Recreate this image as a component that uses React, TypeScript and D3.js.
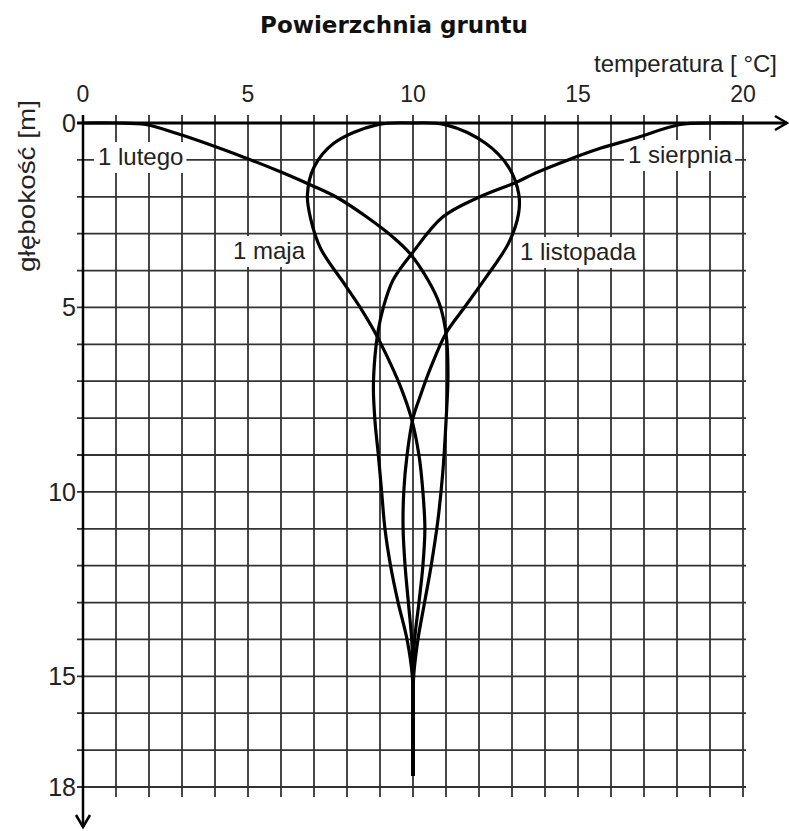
import { useEffect, useRef } from 'react';
import * as d3 from 'd3';

// axis ticks
const tempTicks = [0, 5, 10, 15, 20];
const depthTicks = [0, 5, 10, 15, 18];

// profiles: depth [m] and temperature [°C]
const lutyDepth = [0, 0, 0.04, 0.3, 0.92, 1.33, 1.68, 2.02, 2.55, 3.1, 3.53, 4.25, 4.9, 5.7, 6.8, 8.1, 9.5, 10.8, 12, 13, 14, 15, 16, 17.7];
const lutyTemp = [0, 1, 1.9, 2.9, 4.85, 6.0, 6.9, 7.7, 8.6, 9.4, 9.9, 10.45, 10.8, 11.0, 11.06, 11.0, 10.9, 10.75, 10.55, 10.35, 10.15, 10.02, 10.0, 10.0];

const majDepth = [0, 0.05, 0.55, 1.2, 1.95, 2.6, 3.4, 4.4, 5.07, 5.6, 6.3, 7.1, 8.0, 9, 10, 11, 12, 13, 14, 15, 16, 17.7];
const majTemp = [10, 8.9, 7.6, 7.0, 6.8, 6.9, 7.2, 7.95, 8.45, 8.8, 9.2, 9.6, 9.95, 10.18, 10.3, 10.36, 10.3, 10.18, 10.05, 10.0, 10.0, 10.0];

const sierpienDepth = [0, 0, 0.04, 0.42, 0.68, 1.0, 1.36, 1.6, 2.0, 2.55, 3.5, 4.25, 5.0, 5.6, 6.3, 7.2, 8.1, 9, 10, 11, 12, 13, 14, 15, 16, 17.7];
const sierpienTemp = [20, 19, 18.1, 16.7, 15.7, 14.7, 13.7, 13.15, 12.03, 10.9, 10.0, 9.4, 9.1, 8.95, 8.85, 8.8, 8.85, 8.95, 9.05, 9.15, 9.32, 9.55, 9.82, 9.98, 10.0, 10.0];

const listopadDepth = [0, 0.05, 0.55, 1.2, 1.9, 2.45, 3.25, 4.2, 5.07, 5.7, 6.6, 7.4, 8.0, 9, 10, 11, 12, 13, 14, 15, 16, 17.7];
const listopadTemp = [10, 11.0, 12.2, 12.9, 13.2, 13.2, 12.9, 12.2, 11.5, 11.0, 10.55, 10.22, 10.0, 9.82, 9.72, 9.7, 9.76, 9.86, 9.96, 10.0, 10.0, 10.0];

const seriesNames = ['1 lutego', '1 maja', '1 sierpnia', '1 listopada'];

const W = 789;
const H = 831;

const App = () => {
  const ref = useRef<SVGSVGElement>(null);

  useEffect(() => {
    if (!ref.current) return;
    const svg = d3.select(ref.current);
    svg.selectAll('*').remove();

    const x = d3.scaleLinear().domain([0, 20]).range([83, 743]);
    const y = d3.scaleLinear().domain([0, 18]).range([123, 787]);

    const series = [
      { name: seriesNames[0], pts: lutyDepth.map((d, i) => [lutyTemp[i], d]) },
      { name: seriesNames[1], pts: majDepth.map((d, i) => [majTemp[i], d]) },
      { name: seriesNames[2], pts: sierpienDepth.map((d, i) => [sierpienTemp[i], d]) },
      { name: seriesNames[3], pts: listopadDepth.map((d, i) => [listopadTemp[i], d]) },
    ];

    const sans = "'Liberation Sans', Arial, sans-serif";

    // title
    svg.append('text')
      .attr('x', 394).attr('y', 33)
      .attr('text-anchor', 'middle')
      .attr('font-family', "'DejaVu Sans', Verdana, sans-serif")
      .attr('font-weight', 'bold')
      .attr('font-size', 23)
      .attr('fill', '#111')
      .text('Powierzchnia gruntu');

    // grid
    const grid = svg.append('g').attr('stroke', '#333').attr('stroke-width', 1.8);
    grid.selectAll('line.v')
      .data(d3.range(1, 21))
      .enter().append('line')
      .attr('class', 'v')
      .attr('x1', d => x(d)).attr('x2', d => x(d))
      .attr('y1', y(0) - 8).attr('y2', y(18) + 10);
    grid.selectAll('line.h')
      .data(d3.range(1, 19))
      .enter().append('line')
      .attr('class', 'h')
      .attr('y1', d => y(d)).attr('y2', d => y(d))
      .attr('x1', x(0) - 6).attr('x2', x(20) + 3);

    // axes with arrows
    const axes = svg.append('g').attr('stroke', '#000').attr('fill', 'none');
    axes.append('line')
      .attr('x1', x(0) - 6).attr('x2', W - 2)
      .attr('y1', y(0)).attr('y2', y(0))
      .attr('stroke-width', 3);
    axes.append('path')
      .attr('d', `M${W - 14},${y(0) - 7}L${W - 2},${y(0)}L${W - 14},${y(0) + 7}`)
      .attr('stroke-width', 2.5);
    axes.append('line')
      .attr('x1', x(0)).attr('x2', x(0))
      .attr('y1', y(0) - 8).attr('y2', 827)
      .attr('stroke-width', 2.5);
    axes.append('path')
      .attr('d', `M${x(0) - 7},815L${x(0)},827L${x(0) + 7},815`)
      .attr('stroke-width', 2.5);

    // tick labels
    svg.append('g')
      .selectAll('text')
      .data(tempTicks)
      .enter().append('text')
      .attr('x', d => x(d)).attr('y', 102)
      .attr('text-anchor', 'middle')
      .attr('font-family', sans).attr('font-size', 23)
      .attr('fill', '#222')
      .text(d => d);
    svg.append('g')
      .selectAll('text')
      .data(depthTicks)
      .enter().append('text')
      .attr('x', 76).attr('y', d => y(d) + 9)
      .attr('text-anchor', 'end')
      .attr('font-family', sans).attr('font-size', 25)
      .attr('fill', '#222')
      .text(d => d);

    // axis titles
    svg.append('text')
      .attr('x', 777).attr('y', 72)
      .attr('text-anchor', 'end')
      .attr('font-family', sans).attr('font-size', 24)
      .attr('fill', '#222')
      .text('temperatura [ °C]');
    svg.append('text')
      .attr('transform', 'translate(35,186) rotate(-90)')
      .attr('text-anchor', 'middle')
      .attr('font-family', sans).attr('font-size', 24)
      .attr('textLength', 172).attr('lengthAdjust', 'spacingAndGlyphs')
      .attr('fill', '#222')
      .text('głębokość [m]');

    // curve labels with white boxes over the grid
    const labelSpots = [
      { x: 98, y: 165 },
      { x: 233, y: 259 },
      { x: 628, y: 163 },
      { x: 520, y: 260 },
    ];
    const labels = svg.append('g');
    seriesNames.forEach((name, i) => {
      const g = labels.append('g');
      const rect = g.append('rect').attr('fill', '#fff');
      const t = g.append('text')
        .attr('x', labelSpots[i].x).attr('y', labelSpots[i].y)
        .attr('font-family', sans).attr('font-size', 24)
        .attr('fill', '#222')
        .text(name);
      const len = (t.node() as SVGTextElement).getComputedTextLength();
      rect.attr('x', labelSpots[i].x - 4).attr('y', labelSpots[i].y - 23)
        .attr('width', len + 7).attr('height', 31);
    });

    // temperature profiles
    const line = d3.line<number[]>()
      .x(d => x(d[0]))
      .y(d => y(d[1]))
      .curve(d3.curveCatmullRom.alpha(0.5));

    svg.append('g')
      .selectAll('path')
      .data(series)
      .enter().append('path')
      .attr('d', d => line(d.pts))
      .attr('fill', 'none')
      .attr('stroke', '#000')
      .attr('stroke-width', 3.2)
      .attr('stroke-linejoin', 'round');
  }, []);

  return (
    <svg
      ref={ref}
      width={W}
      height={H}
      style={{ position: 'absolute', left: 0, top: 0, background: '#fff' }}
    />
  );
};

export default App;
